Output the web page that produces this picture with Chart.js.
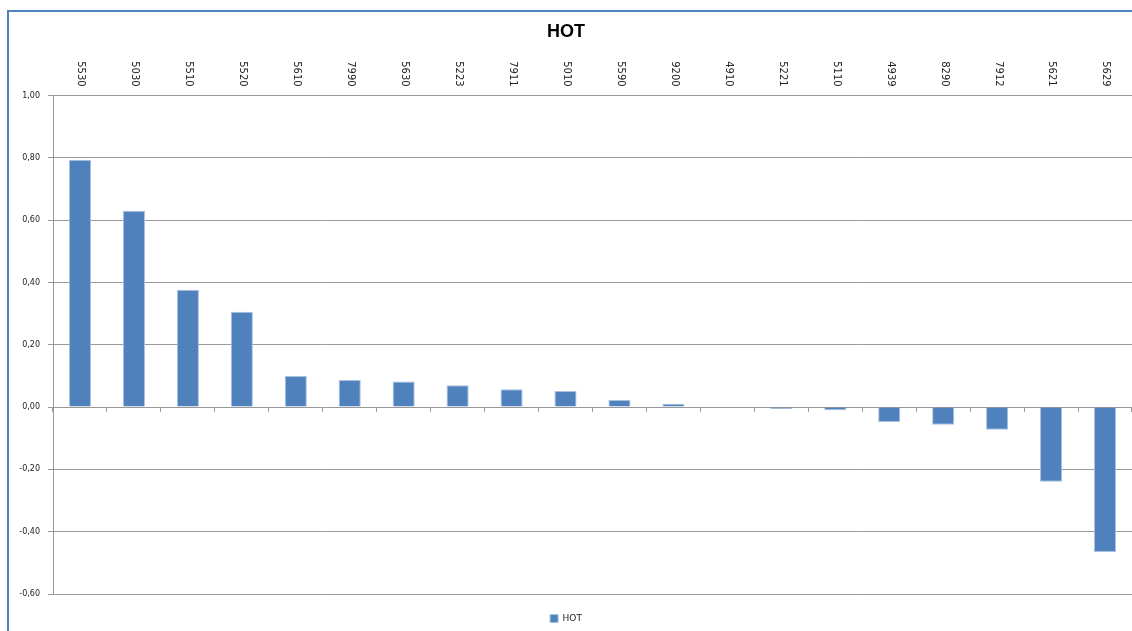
<!DOCTYPE html>
<html>
<head>
<meta charset="utf-8">
<script src="https://cdn.jsdelivr.net/npm/chart.js@4"></script>
<style>
  html, body { margin: 0; padding: 0; background: #fff; overflow: hidden; }
  #frame { position: absolute; left: 7px; top: 10px; width: 3000px; height: 3000px;
           border-left: 2px solid #4F81BD; border-top: 2px solid #4F81BD; }
  #myChart { position: absolute; left: 0; top: 0; }
</style>
</head>
<body>
<div id="frame"></div>
<canvas id="myChart" width="1132" height="631"></canvas>
<script>
var codes = ['5530', '5030', '5510', '5520', '5610', '7990', '5630', '5223', '7911', '5010',
             '5590', '9200', '4910', '5221', '5110', '4939', '8290', '7912', '5621', '5629'];
var hot = [0.794, 0.63, 0.377, 0.306, 0.10, 0.087, 0.082, 0.07, 0.057, 0.052,
           0.023, 0.011, 0.0, -0.006, -0.01, -0.048, -0.057, -0.073, -0.24, -0.465];
var yTicks = [-0.6, -0.4, -0.2, 0, 0.2, 0.4, 0.6, 0.8, 1.0];

// Excel style: category labels at the top, rotated clockwise
var topLabels = {
    id: 'topLabels',
    afterDraw: function (chart) {
        var scale = chart.scales.x;
        var ctx = chart.ctx;
        ctx.save();
        ctx.font = '10px "DejaVu Sans"';
        ctx.fillStyle = '#222';
        ctx.textAlign = 'right';
        ctx.textBaseline = 'middle';
        codes.forEach(function (c, i) {
            ctx.save();
            ctx.translate(scale.getPixelForTick(i) + 1, scale.bottom - 9);
            ctx.rotate(Math.PI / 2);
            ctx.fillText(c, 0, 0);
            ctx.restore();
        });
        ctx.restore();
    }
};

var canvas = document.getElementById('myChart');
new Chart(canvas, {
    type: 'bar',
    data: {
        labels: codes,
        datasets: [{
            label: 'HOT',
            data: hot,
            backgroundColor: '#4F81BD',
            borderColor: '#A9C0DE',
            borderWidth: 1,
            barPercentage: 0.41,
            categoryPercentage: 1
        }]
    },
    options: {
        responsive: false,
        animation: false,
        layout: { padding: { left: 0, right: 0, top: 0, bottom: -2 } },
        plugins: {
            title: {
                display: true,
                text: 'HOT',
                color: '#000',
                font: { family: 'Liberation Sans', size: 18, weight: 'bold' },
                padding: { top: 21, bottom: 0 }
            },
            legend: {
                position: 'bottom',
                labels: {
                    boxWidth: 8,
                    boxHeight: 8,
                    padding: 20,
                    color: '#222',
                    font: { family: 'DejaVu Sans', size: 9 }
                }
            },
            tooltip: { enabled: false }
        },
        scales: {
            x: {
                position: 'top',
                grid: { display: false },
                border: { color: '#999' },
                ticks: { display: false },
                afterFit: function (scale) { scale.height = 53; }
            },
            x2: {
                type: 'category',
                position: { y: 0 },
                offset: true,
                grid: { drawOnChartArea: false, offset: true, tickLength: 5, color: '#999' },
                border: { display: false },
                ticks: { display: false }
            },
            y: {
                min: -0.6,
                max: 1.0,
                afterBuildTicks: function (scale) {
                    scale.ticks = yTicks.map(function (v) { return { value: v }; });
                },
                grid: { color: '#999', tickLength: 5 },
                border: { color: '#999' },
                ticks: {
                    padding: 8,
                    color: '#222',
                    font: { family: 'DejaVu Sans', size: 8 },
                    callback: function (v) { return v.toFixed(2).replace('.', ','); }
                },
                afterFit: function (scale) { scale.width = 53; }
            }
        }
    },
    plugins: [topLabels]
});
</script>
</body>
</html>
